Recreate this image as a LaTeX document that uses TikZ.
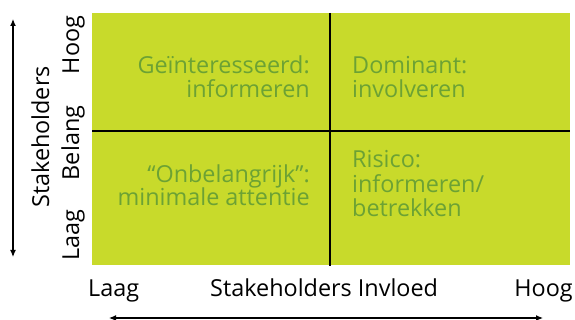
\documentclass[tikz,border=0pt]{standalone}
\usepackage{fontspec}
\setmainfont{Open Sans}
\usetikzlibrary{arrows.meta}
\definecolor{gridgreen}{RGB}{200,218,43}
\definecolor{labelgreen}{RGB}{108,162,52}
\tikzset{
  quadtext/.style={inner sep=0pt, text=labelgreen, font=\fontsize{23.4}{25}\selectfont, anchor=base},
  axistext/.style={inner sep=0pt, text=black, font=\fontsize{23.4}{25}\selectfont, anchor=base},
  divider/.style={line width=1.6pt, black},
  axisarrow/.style={line width=1.2pt, {Latex[length=7pt,width=6pt]}-{Latex[length=7pt,width=6pt]}}
}
\begin{document}
\begin{tikzpicture}[x=1pt,y=-1pt]
  \useasboundingbox (0,0) rectangle (575,320);
  % matrix background
  \fill[gridgreen] (92,13) rectangle (570,265);
  % quadrant dividers
  \coordinate (vtop) at (330,13);
  \coordinate (vbot) at (330,266);
  \coordinate (hleft) at (92,131);
  \coordinate (hright) at (570,131);
  \draw[divider] (vtop) -- (vbot);
  \draw[divider] (hleft) -- (hright);

  % quadrant labels
  \node[quadtext, anchor=base east] (q1a) at (310,74) {Geïnteresseerd:};
  \node[quadtext, anchor=base east] (q1b) at (310,98) {informeren};
  \node[quadtext, anchor=base west] (q2a) at (352,74) {Dominant:};
  \node[quadtext, anchor=base west] (q2b) at (352,98) {involveren};
  \node[quadtext, anchor=base east] (q3a) at (310,183) {“Onbelangrijk”:};
  \node[quadtext, anchor=base east] (q3b) at (310,206) {minimale attentie};
  \node[quadtext, anchor=base west] (q4a) at (352,168) {Risico:};
  \node[quadtext, anchor=base west] (q4b) at (352,193) {informeren/};
  \node[quadtext, anchor=base west] (q4c) at (352,217) {betrekken};

  % vertical axis
  \node[axistext, rotate=90] (yhigh) at (79,45) {Hoog};
  \node[axistext, rotate=90] (ymid) at (79,143) {Belang};
  \node[axistext, rotate=90] (ylow) at (79,235) {Laag};
  \node[axistext, rotate=90] (ytitle) at (49,137) {Stakeholders};
  \coordinate (ya) at (13,19);
  \coordinate (yb) at (13,257);
  \draw[axisarrow] (ya) -- (yb);

  % horizontal axis
  \node[axistext, anchor=base west] (xlow) at (88,296) {Laag};
  \node[axistext, anchor=base west] (xtitle) at (210,296) {Stakeholders Invloed};
  \node[axistext, anchor=base east] (xhigh) at (573,296) {Hoog};
  \coordinate (xa) at (109,318);
  \coordinate (xb) at (543,318);
  \draw[axisarrow] (xa) -- (xb);
\end{tikzpicture}
\end{document}
